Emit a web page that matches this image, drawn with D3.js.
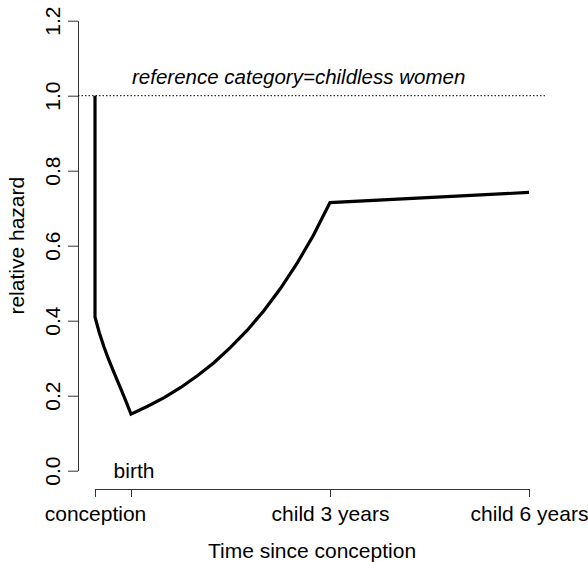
<!DOCTYPE html>
<html>
<head>
<meta charset="utf-8">
<script src="https://cdn.jsdelivr.net/npm/d3@7"></script>
<style>
  body { margin: 0; background: #fff; }
  text { font-family: "Liberation Sans", Arial, sans-serif; }
</style>
</head>
<body>
<div id="chart"></div>
<script>
const width = 588;
const height = 562;

// time in years relative to birth (pregnancy = -0.75 .. 0)
const times = [-0.75, -0.75, -0.66, -0.5625, -0.47, -0.375, -0.28, -0.1875, -0.09, 0,
  0.25, 0.5, 0.75, 1, 1.25, 1.5, 1.75, 2, 2.25, 2.5, 2.75, 3, 6];
const hazard = [1.0, 0.41, 0.368, 0.33, 0.298, 0.268, 0.239, 0.211, 0.18, 0.151,
  0.172, 0.195, 0.222, 0.253, 0.288, 0.329, 0.374, 0.426, 0.485, 0.552, 0.628, 0.715, 0.742];

const xTicks = [-0.75, 0, 3, 6];
const xTickLabels = ['conception', '', 'child 3 years', 'child 6 years'];
const yTicks = [0, 0.2, 0.4, 0.6, 0.8, 1.0, 1.2];
const refLevel = 1.0;
const refLabel = 'reference category=childless women';

const points = times.map((t, i) => ({ t: t, v: hazard[i] }));

// pregnancy is drawn on its own (compressed) stretch of the axis
const x = d3.scaleLinear()
  .domain([-0.75, 0, 6])
  .range([95, 131, 529]);

const y = d3.scaleLinear()
  .domain([0, 1.2])
  .range([470.7, 20.7]);

const svg = d3.select('#chart')
  .append('svg')
  .attr('width', width)
  .attr('height', height);

// y axis
const yAxis = svg.append('g')
  .attr('transform', 'translate(78,0)')
  .call(d3.axisLeft(y)
    .tickValues(yTicks)
    .tickSize(10)
    .tickSizeOuter(0)
    .tickFormat(d3.format('.1f')));

yAxis.select('.domain').attr('stroke', '#333');
yAxis.selectAll('.tick line').attr('stroke', '#333');
yAxis.selectAll('.tick text')
  .attr('transform', 'rotate(-90)')
  .attr('x', 0)
  .attr('y', -18)
  .attr('dy', 0)
  .attr('text-anchor', 'middle')
  .attr('fill', '#000')
  .style('font-size', '21px');

// x axis
const xAxis = svg.append('g')
  .attr('transform', 'translate(0,489)')
  .call(d3.axisBottom(x)
    .tickValues(xTicks)
    .tickSize(8)
    .tickSizeOuter(0)
    .tickFormat((d, i) => xTickLabels[i]));

xAxis.select('.domain').attr('stroke', '#333');
xAxis.selectAll('.tick line').attr('stroke', '#333');
xAxis.selectAll('.tick text')
  .attr('y', 32)
  .attr('dy', 0)
  .attr('fill', '#000')
  .style('font-size', '21px');

// birth label sits above the axis
svg.append('text')
  .attr('x', x(0) + 3)
  .attr('y', 478)
  .attr('text-anchor', 'middle')
  .style('font-size', '21px')
  .text('birth');

// axis titles
svg.append('text')
  .attr('x', (x.range()[0] + x.range()[2]) / 2)
  .attr('y', 558)
  .attr('text-anchor', 'middle')
  .style('font-size', '21px')
  .text('Time since conception');

svg.append('text')
  .attr('transform', `translate(24,${(y(0) + y(1.2)) / 2}) rotate(-90)`)
  .attr('text-anchor', 'middle')
  .style('font-size', '21px')
  .text('relative hazard');

// reference line
svg.append('line')
  .attr('x1', 78)
  .attr('x2', 547)
  .attr('y1', y(refLevel))
  .attr('y2', y(refLevel))
  .attr('stroke', '#000')
  .attr('stroke-width', 1)
  .attr('stroke-dasharray', '1.5,2');

svg.append('text')
  .attr('x', x(0) + 1)
  .attr('y', y(refLevel) - 12)
  .style('font-size', '20.5px')
  .style('font-style', 'italic')
  .text(refLabel);

// hazard curve
const line = d3.line()
  .x(d => x(d.t))
  .y(d => y(d.v));

svg.append('path')
  .datum(points)
  .attr('d', line)
  .attr('fill', 'none')
  .attr('stroke', '#000')
  .attr('stroke-width', 3.2);
</script>
</body>
</html>
